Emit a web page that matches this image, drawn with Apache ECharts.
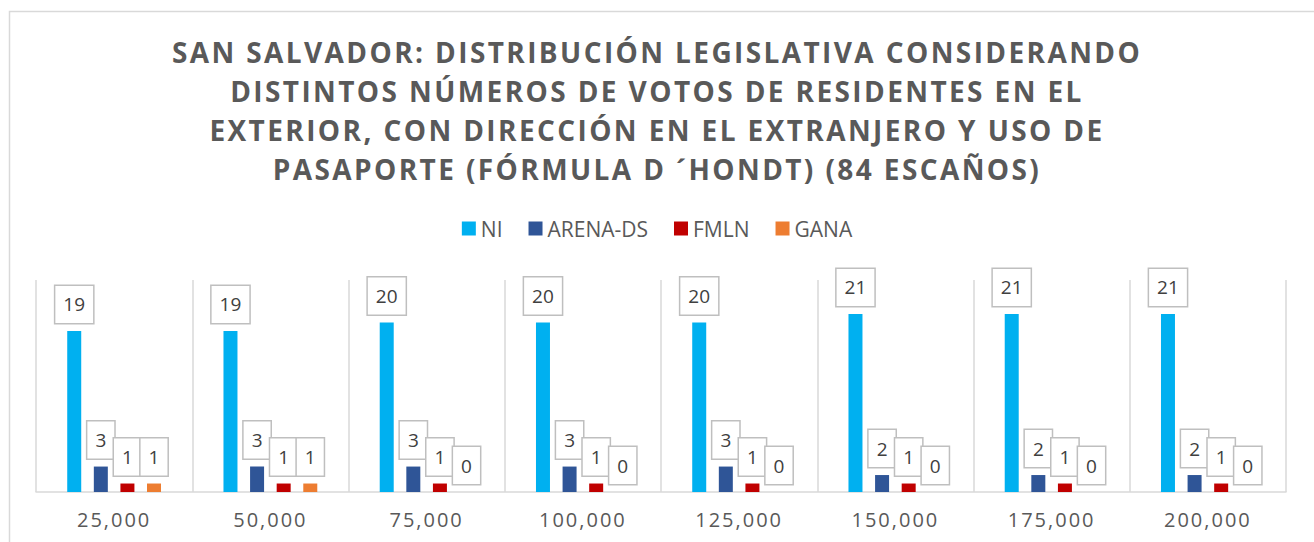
<!DOCTYPE html>
<html>
<head>
<meta charset="utf-8">
<script src="https://cdn.jsdelivr.net/npm/echarts@6/dist/echarts.min.js"></script>
<style>
html,body{margin:0;padding:0;background:#fff}
#c{width:1314px;height:542px}
#c text[style*="28px"]{letter-spacing:2.4px}
#c text[style*="20px"]{letter-spacing:2px}
</style>
</head>
<body>
<div id="c"></div>
<script>
const titleText = 'SAN SALVADOR: DISTRIBUCIÓN LEGISLATIVA CONSIDERANDO\nDISTINTOS NÚMEROS DE VOTOS DE RESIDENTES EN EL\nEXTERIOR, CON DIRECCIÓN EN EL EXTRANJERO Y USO DE\nPASAPORTE (FÓRMULA D ´HONDT) (84 ESCAÑOS)';
const categories = ['25,000', '50,000', '75,000', '100,000', '125,000', '150,000', '175,000', '200,000'];
const seriesNames = ['NI', 'ARENA-DS', 'FMLN', 'GANA'];
const ni = [19, 19, 20, 20, 20, 21, 21, 21];
const arena = [3, 3, 3, 3, 3, 2, 2, 2];
const fmln = [1, 1, 1, 1, 1, 1, 1, 1];
const gana = [1, 1, 0, 0, 0, 0, 0, 0];
const colors = ['#00B0F0', '#2F5597', '#C00000', '#ED7D31'];

const chart = echarts.init(document.getElementById('c'), null, {renderer: 'svg'});
const font = "'Open Sans', sans-serif";
const label = {
  show: true, position: 'top', distance: 8,
  color: '#404040', fontSize: 19, fontFamily: font,
  backgroundColor: '#fff', borderColor: '#bfbfbf', borderWidth: 1.5,
  padding: [9, 8]
};
const values = [ni, arena, fmln, gana];
chart.setOption({
  animation: false,
  color: colors,
  graphic: [{type: 'rect', left: 7, top: 9, shape: {width: 1330, height: 560},
    style: {fill: 'none', stroke: '#d9d9d9', lineWidth: 1.5}, silent: true}],
  title: {
    text: titleText, left: 'center', top: 32, padding: 0,
    textStyle: {fontSize: 28, fontWeight: 'bold', color: '#595959', lineHeight: 39, fontFamily: font}
  },
  legend: {
    top: 213, left: 'center', icon: 'rect', itemWidth: 14, itemHeight: 14, itemGap: 26,
    textStyle: {fontSize: 21, color: '#595959', fontFamily: font}
  },
  grid: {left: 36, right: 28, top: 280, bottom: 50},
  xAxis: {
    type: 'category', data: categories,
    axisLine: {lineStyle: {color: '#d9d9d9', width: 1.5}},
    axisTick: {show: false},
    splitLine: {show: true, lineStyle: {color: '#d9d9d9', width: 1.5}},
    axisLabel: {color: '#595959', fontSize: 20, margin: 17, fontFamily: font}
  },
  yAxis: {type: 'value', min: 0, max: 25, show: false, splitLine: {show: false}},
  series: seriesNames.map((n, i) => ({
    name: n, type: 'bar', data: values[i], barWidth: 14, barGap: '90%', label: label
  }))
});
</script>
</body>
</html>
